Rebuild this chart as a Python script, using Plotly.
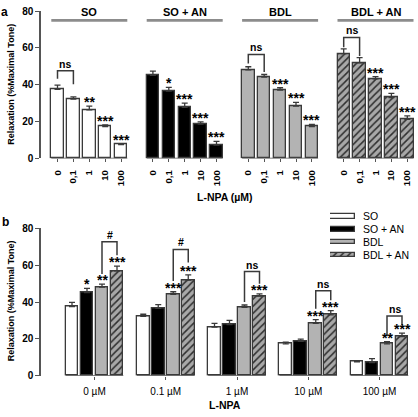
import plotly.graph_objects as go

W, H = 418, 417

# ---------------- data ----------------
treatments = ["SO", "SO + AN", "BDL", "BDL + AN"]
conc_a = ["0", "0,1", "1", "10", "100"]
conc_b = ["0 µM", "0.1 µM", "1 µM", "10 µM", "100 µM"]

so = [37.5, 32.2, 26.4, 17.3, 7.6]
so_err = [2.3, 1.2, 2.0, 1.0, 0.5]
so_an = [45.1, 36.6, 27.8, 18.7, 7.2]
so_an_err = [2.3, 2.0, 2.3, 1.2, 2.1]
bdl = [48.1, 44.2, 37.1, 28.4, 17.3]
bdl_err = [1.7, 1.4, 1.3, 2.1, 1.2]
bdl_an = [56.9, 51.9, 43.2, 33.1, 21.3]
bdl_an_err = [2.6, 2.9, 1.3, 2.3, 1.8]

# significance marks, panel a (vs 0 µM within each group)
stars_a_so = ["", "", "**", "***", "***"]
stars_a_so_an = ["", "*", "***", "***", "***"]
stars_a_bdl = ["", "", "***", "***", "***"]
stars_a_bdl_an = ["", "", "***", "***", "***"]
# "ns" brackets in panel a (between 0 and 0,1) for SO, BDL, BDL + AN
ns_a_group = [0, 2, 3]
ns_a_top = [47.7, 56.5, 65.7]
ns_a_left = [43.3, 51.6, 60.4]
ns_a_right = [40.3, 46.9, 55.6]

# significance marks, panel b (vs SO at each concentration)
stars_b_so = ["", "", "", "", ""]
stars_b_so_an = ["*", "", "", "", ""]
stars_b_bdl = ["**", "***", "", "***", "**"]
stars_b_bdl_an = ["***", "***", "***", "***", "***"]
# brackets BDL vs BDL + AN in panel b
br_b_label = ["#", "#", "ns", "ns", "ns"]
br_b_top = [72.7, 68.6, 56.6, 46.1, 32.5]
br_b_left = [55.2, 51.5, 40.0, 36.4, 21.5]
br_b_right = [65.4, 61.5, 50.0, 41.0, 27.6]

values = [so, so_an, bdl, bdl_an]
errors = [so_err, so_an_err, bdl_err, bdl_an_err]
stars_a = [stars_a_so, stars_a_so_an, stars_a_bdl, stars_a_bdl_an]
stars_b = [stars_b_so, stars_b_so_an, stars_b_bdl, stars_b_bdl_an]

# ---------------- styles ----------------
FONT = "Arial, Liberation Sans, sans-serif"
EDGE = "#3a3a3a"
AXC = "#555555"
GRAY = "#b3b3b3"
HATCH_BG = "#a8a8a8"


def marker(i):
    line = dict(color=EDGE, width=1.3)
    if i == 0:
        return dict(color="white", line=line)
    if i == 1:
        return dict(color="black", line=line)
    if i == 2:
        return dict(color=GRAY, line=line)
    return dict(color=HATCH_BG, line=line,
                pattern=dict(shape="/", fgcolor="#2e2e2e", bgcolor=HATCH_BG,
                             size=5, solidity=0.3, fillmode="replace"))


def px_x(p):
    return p / W


def px_y(p):
    return 1 - p / H


nconc = len(conc_a)
pitch_a = nconc + 1          # 5 bars + one empty slot
pitch_b = 4.75               # 4 bars + gap
bw_a = 0.78
bw_b = 0.84

fig = go.Figure()

# ---------------- panel a ----------------
for g, name in enumerate(treatments):
    xs = [g * pitch_a + k for k in range(nconc)]
    fig.add_trace(go.Bar(
        x=xs, y=values[g], width=bw_a, marker=marker(g), name=name,
        showlegend=False, xaxis="x", yaxis="y",
        error_y=dict(type="data", symmetric=False, array=errors[g],
                     arrayminus=[0] * nconc, color=EDGE, thickness=1.3, width=3),
    ))

# ---------------- panel b ----------------
for t, name in enumerate(treatments):
    xs = [c * pitch_b + t for c in range(nconc)]
    fig.add_trace(go.Bar(
        x=xs, y=values[t], width=bw_b, marker=marker(t), name=name,
        showlegend=False, xaxis="x2", yaxis="y2",
        error_y=dict(type="data", symmetric=False, array=errors[t],
                     arrayminus=[0] * nconc, color=EDGE, thickness=1.3, width=3),
    ))

# ---------------- legend (panel b) as small bars ----------------
leg_top_px, leg_row_px = 210, 13.25
for t, name in enumerate(treatments):
    fig.add_trace(go.Bar(
        x=[1], y=[len(treatments) - 1 - t], base=0, orientation="h", width=0.36,
        marker=marker(t), showlegend=False, xaxis="x3", yaxis="y3",
        hoverinfo="skip",
    ))

shapes = []
ann = []

# panel a: group baselines, headers, stars, brackets
for g, name in enumerate(treatments):
    x0 = g * pitch_a - bw_a / 2
    x1 = g * pitch_a + nconc - 1 + bw_a / 2
    shapes.append(dict(type="line", xref="x", yref="y", x0=x0, x1=x1, y0=0, y1=0,
                       line=dict(color=AXC, width=1.3)))
    shapes.append(dict(type="line", xref="x", yref="y", x0=x0, x1=x1, y0=75, y1=75,
                       line=dict(color="#8c8c8c", width=2.6)))
    ann.append(dict(xref="x", yref="y", x=(x0 + x1) / 2, y=75, text=name,
                    yanchor="bottom", xanchor="center", showarrow=False, yshift=0,
                    font=dict(family=FONT, size=11, color="black", weight="bold")))
    for k in range(nconc):
        s = stars_a[g][k]
        if s:
            ann.append(dict(xref="x", yref="y", x=g * pitch_a + k,
                            y=values[g][k] + errors[g][k], text=s,
                            yanchor="bottom", xanchor="center", showarrow=False,
                            yshift=-6,
                            font=dict(family=FONT, size=14, color="black", weight="bold")))

for j, g in enumerate(ns_a_group):
    xa = g * pitch_a
    xb = g * pitch_a + 1
    path = f"M {xa},{ns_a_left[j]} L {xa},{ns_a_top[j]} L {xb},{ns_a_top[j]} L {xb},{ns_a_right[j]}"
    shapes.append(dict(type="path", xref="x", yref="y", path=path,
                       line=dict(color=EDGE, width=1.5)))
    ann.append(dict(xref="x", yref="y", x=(xa + xb) / 2, y=ns_a_top[j], text="ns",
                    yanchor="bottom", xanchor="center", showarrow=False, yshift=-1,
                    font=dict(family=FONT, size=10.5, color="black", weight="bold")))

# panel b: group baselines, stars, brackets
for c in range(nconc):
    x0 = c * pitch_b - bw_b / 2
    x1 = c * pitch_b + len(treatments) - 1 + bw_b / 2
    shapes.append(dict(type="line", xref="x2", yref="y2", x0=x0, x1=x1, y0=0, y1=0,
                       line=dict(color=AXC, width=1.3)))
    for t in range(len(treatments)):
        s = stars_b[t][c]
        if s:
            ann.append(dict(xref="x2", yref="y2", x=c * pitch_b + t,
                            y=values[t][c] + errors[t][c], text=s,
                            yanchor="bottom", xanchor="center", showarrow=False,
                            yshift=-6,
                            font=dict(family=FONT, size=14, color="black", weight="bold")))
    xa = c * pitch_b + 2
    xb = c * pitch_b + 3
    path = f"M {xa},{br_b_left[c]} L {xa},{br_b_top[c]} L {xb},{br_b_top[c]} L {xb},{br_b_right[c]}"
    shapes.append(dict(type="path", xref="x2", yref="y2", path=path,
                       line=dict(color=EDGE, width=1.5)))
    ann.append(dict(xref="x2", yref="y2", x=(xa + xb) / 2, y=br_b_top[c], text=br_b_label[c],
                    yanchor="bottom", xanchor="center", showarrow=False, yshift=-1,
                    font=dict(family=FONT, size=10.5, color="black", weight="bold")))

# legend labels (paper coordinates, aligned to the legend rows)
for t, name in enumerate(treatments):
    row_px = leg_top_px + (0.5 + t) * leg_row_px
    ann.append(dict(xref="paper", yref="paper", x=px_x(361), y=px_y(row_px), text=name,
                    xanchor="left", yanchor="middle", showarrow=False,
                    font=dict(family=FONT, size=10.5, color="black")))

# titles and panel letters
ytitle = "Relaxation (%Maximal Tone)"
ann.append(dict(xref="paper", yref="paper", x=px_x(11), y=px_y(81), text=ytitle,
                textangle=-90, showarrow=False, xanchor="center", yanchor="middle",
                font=dict(family=FONT, size=9, color="black", weight="bold")))
ann.append(dict(xref="paper", yref="paper", x=px_x(11), y=px_y(304), text=ytitle,
                textangle=-90, showarrow=False, xanchor="center", yanchor="middle",
                font=dict(family=FONT, size=9, color="black", weight="bold")))
ann.append(dict(xref="paper", yref="paper", x=px_x(225), y=px_y(197), text="L-NPA (µM)",
                showarrow=False, xanchor="center", yanchor="middle",
                font=dict(family=FONT, size=10.5, color="black", weight="bold")))
ann.append(dict(xref="paper", yref="paper", x=px_x(225), y=px_y(411), text="L-NPA",
                showarrow=False, xanchor="center", yanchor="middle",
                font=dict(family=FONT, size=10.5, color="black", weight="bold")))
ann.append(dict(xref="paper", yref="paper", x=px_x(4), y=px_y(6), text="a",
                showarrow=False, xanchor="center", yanchor="middle",
                font=dict(family=FONT, size=12, color="black", weight="bold")))
ann.append(dict(xref="paper", yref="paper", x=px_x(5), y=px_y(222), text="b",
                showarrow=False, xanchor="center", yanchor="middle",
                font=dict(family=FONT, size=12, color="black", weight="bold")))

# axes geometry
xa_left, xa_right = 41, 416
x0a_px, unit_a = 57.5, 15.9
x0b_px, unit_b = 72.0, 15.0
range_a = [(xa_left - x0a_px) / unit_a, (xa_right - x0a_px) / unit_a]
range_b = [(xa_left - x0b_px) / unit_b, (xa_right - x0b_px) / unit_b]

tickvals_a = [g * pitch_a + k for g in range(len(treatments)) for k in range(nconc)]
ticktext_a = [conc_a[k] for g in range(len(treatments)) for k in range(nconc)]
tickvals_b = [c * pitch_b + 1.5 for c in range(nconc)]

yax = dict(range=[0, 80], tickvals=[0, 20, 40, 60, 80], showline=True, linecolor=AXC,
           linewidth=1.5, ticks="outside", ticklen=4, tickwidth=1.3, tickcolor=AXC,
           showgrid=False, zeroline=False, fixedrange=True,
           tickfont=dict(family=FONT, size=10, color="black", weight="bold"))

fig.update_layout(
    width=W, height=H, margin=dict(l=0, r=0, t=0, b=0),
    paper_bgcolor="white", plot_bgcolor="rgba(0,0,0,0)",
    barmode="overlay", bargap=0,
    xaxis=dict(domain=[px_x(xa_left), px_x(xa_right)], range=range_a, anchor="y",
               tickvals=tickvals_a, ticktext=ticktext_a, tickangle=-90,
               ticks="outside", ticklen=3, tickcolor=AXC, tickwidth=1.2,
               showline=False, showgrid=False, zeroline=False, ticklabelstandoff=4,
               fixedrange=True,
               tickfont=dict(family=FONT, size=9.5, color="black", weight="bold")),
    yaxis=dict(domain=[px_y(157), px_y(5.3)], anchor="x", **yax),
    xaxis2=dict(domain=[px_x(xa_left), px_x(xa_right)], range=range_b, anchor="y2",
                tickvals=tickvals_b, ticktext=conc_b,
                ticks="outside", ticklen=3, tickcolor=AXC, tickwidth=1.2,
                showline=False, showgrid=False, zeroline=False, ticklabelstandoff=3,
                fixedrange=True,
                tickfont=dict(family=FONT, size=10, color="black")),
    yaxis2=dict(domain=[px_y(380.7), px_y(229)], anchor="x2", **yax),
    xaxis3=dict(domain=[px_x(330), px_x(355)], range=[0, 1], anchor="y3", visible=False,
                fixedrange=True),
    yaxis3=dict(domain=[px_y(leg_top_px + 4 * leg_row_px), px_y(leg_top_px)],
                range=[-0.5, 3.5], anchor="x3", visible=False, fixedrange=True),
    shapes=shapes, annotations=ann,
)

fig.write_html(
    "out.html",
    config={"displayModeBar": False},
    post_script="document.body.style.margin='0';document.body.style.overflow='hidden';",
)
